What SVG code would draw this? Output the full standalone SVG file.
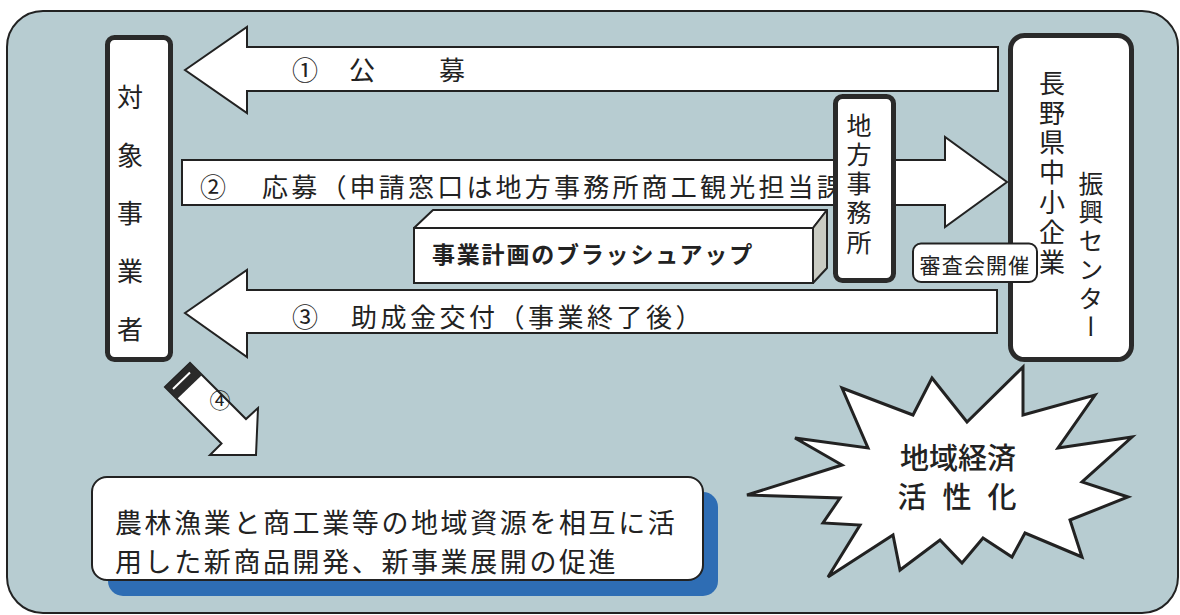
<svg xmlns="http://www.w3.org/2000/svg" width="1180" height="615" viewBox="0 0 1180 615">
<style>
text{font-family:"Noto Sans CJK JP","Noto Sans CJK SC",sans-serif;fill:#222;}
.arrow{fill:#fff;stroke:#222;stroke-width:2;stroke-linejoin:miter;}
.thick{fill:#fff;stroke:#2a2a2a;stroke-width:5;}
.vert{writing-mode:vertical-rl;}
.lbl{font-size:26px;}
</style>
<rect x="0" y="0" width="1180" height="615" fill="#fff"/>
<rect id="panel" x="7" y="11" width="1171" height="602" rx="36" fill="#b7ccd1" stroke="#222" stroke-width="2"/>

<g id="connectors">
  <g id="arrow1">
    <polygon class="arrow" points="185,70 247,27 247,47 998,47 998,91 247,91 247,113"/>
    <text class="lbl" x="292" y="80">①</text>
    <text class="lbl" x="349" y="80">公</text>
    <text class="lbl" x="439" y="80">募</text>
  </g>
  <g id="arrow2">
    <polygon class="arrow" points="182,160 945,160 945,137 1007,182 945,227 945,205 182,205"/>
    <text class="lbl" x="200" y="197">②</text>
    <text class="lbl" x="262" y="197" letter-spacing="3.2">応募（申請窓口は地方事務所商工観光担当課</text>
  </g>
  <g id="arrow3">
    <polygon class="arrow" points="185,313 247,270 247,290 997,290 997,333 247,333 247,357"/>
    <text class="lbl" x="292" y="327">③</text>
    <text class="lbl" x="351" y="327" letter-spacing="3.5">助成金交付（事業終了後）</text>
  </g>
  <g id="arrow4">
    <polygon class="arrow" stroke-width="3" points="165,387 190,363 246,419 258,408 256,455 210,455 221.5,443.5"/>
    <polygon points="165,387 190,363 202,375 177,399" fill="#2a2a2a"/>
    <line x1="173" y1="389" x2="190" y2="372.5" stroke="#fff" stroke-width="2"/>
    <text x="220" y="408" font-size="21" text-anchor="middle">④</text>
  </g>
</g>

<g id="node-applicant">
  <rect class="thick" x="107.5" y="37.5" width="63" height="322" rx="7"/>
  <text class="vert" x="130" y="84" font-size="26" letter-spacing="32">対象事業者</text>
</g>

<g id="node-brushup">
  <polygon points="414,228 433,210 827,210 813,228" fill="#fff" stroke="#222" stroke-width="2" stroke-linejoin="round"/>
  <polygon points="813,228 827,210 827,268 813,283" fill="#c9cbc2" stroke="#222" stroke-width="2" stroke-linejoin="round"/>
  <rect x="414" y="228" width="399" height="55" fill="#fff" stroke="#222" stroke-width="2"/>
  <text x="432" y="263" font-size="23" font-weight="700" letter-spacing="1.8">事業計画のブラッシュアップ</text>
</g>

<g id="node-office">
  <rect class="thick" x="835.5" y="96.5" width="58" height="184" rx="7"/>
  <text class="vert" x="859" y="112.5" font-size="25" letter-spacing="4.3">地方事務所</text>
</g>

<g id="node-center">
  <rect class="thick" x="1010.5" y="35.5" width="121" height="324" rx="14"/>
  <text class="vert" x="1052" y="70" font-size="26" letter-spacing="3.8">長野県中小企業</text>
  <text class="vert" x="1091" y="170.5" font-size="25" letter-spacing="3.8">振興センター</text>
</g>

<g id="node-review">
  <rect x="913" y="243.5" width="124" height="38.5" rx="8" fill="#fff" stroke="#222" stroke-width="2"/>
  <text x="975" y="273" font-size="21" text-anchor="middle" letter-spacing="1.2">審査会開催</text>
</g>

<g id="node-result">
  <rect x="108" y="492" width="610" height="104" rx="15" fill="#2e6db4"/>
  <rect x="92" y="477" width="611" height="103" rx="15" fill="#fff" stroke="#222" stroke-width="2"/>
  <text x="115" y="533" font-size="27" letter-spacing="2.6">農林漁業と商工業等の地域資源を相互に活</text>
  <text x="115" y="572" font-size="27" letter-spacing="2.6">用した新商品開発、新事業展開の促進</text>
</g>

<g id="node-economy">
  <polygon points="932,378 967,422 1023,367 1023,415 1095,395 1058,448 1132,437 1082,482 1128,497 1070,520 1082,557 1025,533 1012,557 983,538 962,563 940,540 900,570 893,535 828,577 860,525 823,523 840,498 747,495 842,465 795,438 868,448 842,388 913,415" fill="#fff" stroke="#222" stroke-width="3" stroke-linejoin="miter"/>
  <text x="958" y="469" font-size="29" text-anchor="middle" font-weight="500">地域経済</text>
  <text x="897.5" y="508" font-size="29" font-weight="500" letter-spacing="16">活性化</text>
</g>
</svg>
